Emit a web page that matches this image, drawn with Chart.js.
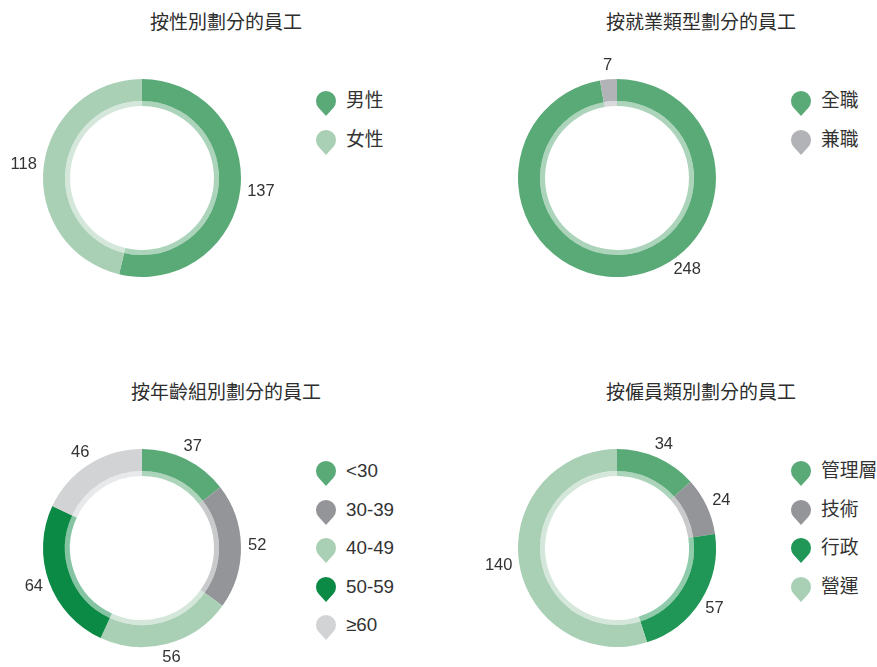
<!DOCTYPE html>
<html lang="zh-Hant">
<head>
<meta charset="utf-8">
<script src="https://cdn.jsdelivr.net/npm/chart.js@4.4.1/dist/chart.umd.min.js"></script>
<style>
  html, body { margin: 0; padding: 0; background: #fff; overflow: hidden; }
  body { width: 877px; height: 667px; position: relative; color: #333;
         font-family: "Liberation Sans", "Noto Sans CJK TC", sans-serif; }
  .panel { position: absolute; width: 452px; height: 370px; }
  .title { position: absolute; left: 0; top: 11px; width: 452px; height: 24px; line-height: 24px;
           text-align: center; font-size: 19px; color: #2e2e2e; }
  .panel canvas { position: absolute; left: 0; top: 40px; }
  .legend { position: absolute; left: 315px; top: 82px; }
  .item { position: relative; height: 38.5px; line-height: 38.5px; font-size: 18.8px; white-space: nowrap; }
  .item svg { position: absolute; left: 0; top: 8.25px; }
  .item span { position: absolute; left: 31px; top: 0; }
</style>
</head>
<body>
<div class="panel" style="left:0;top:0"><div class="title" id="t1"></div><canvas id="c1" width="300" height="238"></canvas><div class="legend" id="l1"></div></div>
<div class="panel" style="left:475px;top:0"><div class="title" id="t2"></div><canvas id="c2" width="300" height="238"></canvas><div class="legend" id="l2"></div></div>
<div class="panel" style="left:0;top:370px"><div class="title" id="t3"></div><canvas id="c3" width="300" height="257"></canvas><div class="legend" id="l3"></div></div>
<div class="panel" style="left:475px;top:370px"><div class="title" id="t4"></div><canvas id="c4" width="300" height="257"></canvas><div class="legend" id="l4"></div></div>
<script>
// chart data
const genderTitle = '按性別劃分的員工';
const genderLabels = ['男性', '女性'];
const genderValues = [137, 118];

const typeTitle = '按就業類型劃分的員工';
const typeLabels = ['全職', '兼職'];
const typeValues = [248, 7];

const ageTitle = '按年齡組別劃分的員工';
const ageLabels = ['<30', '30-39', '40-49', '50-59', '≥60'];
const ageValues = [37, 52, 56, 64, 46];

const gradeTitle = '按僱員類別劃分的員工';
const gradeLabels = ['管理層', '技術', '行政', '營運'];
const gradeValues = [34, 24, 57, 140];

// colours
const green = '#5aaa78';
const paleGreen = '#a9d0b5';
const grey = '#939598';
const lightGrey = '#b2b3b7';
const darkGreen = '#0b8a45';
const paleGrey = '#d1d3d5';
const midGreen = '#219757';

function fade(hex, a) {
  let r = parseInt(hex.slice(1, 3), 16);
  let g = parseInt(hex.slice(3, 5), 16);
  let b = parseInt(hex.slice(5, 7), 16);
  return 'rgba(' + r + ',' + g + ',' + b + ',' + a + ')';
}

// value labels just outside the ring, pushed back in if they run off the canvas
const sliceLabels = {
  id: 'sliceLabels',
  afterDatasetsDraw(chart) {
    let ctx = chart.ctx;
    let meta = chart.getDatasetMeta(0);
    let values = chart.data.datasets[0].data;
    ctx.save();
    ctx.font = '16.5px "Liberation Sans", "Noto Sans CJK TC", sans-serif';
    ctx.fillStyle = '#333';
    ctx.textAlign = 'center';
    ctx.textBaseline = 'middle';
    meta.data.forEach((arc, i) => {
      let text = String(values[i]);
      let w = ctx.measureText(text).width;
      let h = 14;
      let gap = arc.outerRadius + 7;
      let a = (arc.startAngle + arc.endAngle) / 2;
      let pos = ang => ({
        x: arc.x + Math.cos(ang) * gap + Math.cos(ang) * w / 2,
        y: arc.y + Math.sin(ang) * gap + Math.sin(ang) * h / 2
      });
      let p = pos(a);
      let n = 0;
      while (n < 300 && (p.y + h / 2 > chart.height - 1 || p.y - h / 2 < 1)) {
        let below = Math.sin(a) > 0;
        let right = Math.cos(a) >= 0;
        a += (below === right) ? -0.01 : 0.01;
        p = pos(a);
        n++;
      }
      ctx.fillText(text, p.x, p.y);
    });
    ctx.restore();
  }
};

function dropMarker(color) {
  return '<svg width="22" height="28" viewBox="0 0 22 28">' +
    '<path d="M11 26 L18.45 17.67 A10 10 0 1 0 3.55 17.67 Z" fill="' + color + '"/></svg>';
}

function makeChart(n, title, labels, values, colors, bottomPad) {
  document.getElementById('t' + n).textContent = title;
  let legend = document.getElementById('l' + n);
  labels.forEach((label, i) => {
    let item = document.createElement('div');
    item.className = 'item';
    item.innerHTML = dropMarker(colors[i]) + '<span></span>';
    item.querySelector('span').textContent = label;
    legend.appendChild(item);
  });

  new Chart(document.getElementById('c' + n), {
    type: 'doughnut',
    data: {
      labels: labels,
      datasets: [
        { data: values, backgroundColor: colors, borderWidth: 0, hoverOffset: 0, weight: 22 },
        { data: values, backgroundColor: colors.map(c => fade(c, 0.5)), borderWidth: 0, hoverOffset: 0, weight: 5 }
      ]
    },
    options: {
      responsive: false,
      animation: false,
      events: [],
      cutout: 72,
      layout: { padding: { left: 43, right: 59, top: 39, bottom: bottomPad } },
      plugins: {
        legend: { display: false },
        tooltip: { enabled: false }
      }
    },
    plugins: [sliceLabels]
  });
}

makeChart(1, genderTitle, genderLabels, genderValues, [green, paleGreen], 1);
makeChart(2, typeTitle, typeLabels, typeValues, [green, lightGrey], 1);
makeChart(3, ageTitle, ageLabels, ageValues, [green, grey, paleGreen, darkGreen, paleGrey], 20);
makeChart(4, gradeTitle, gradeLabels, gradeValues, [green, grey, midGreen, paleGreen], 20);
</script>
</body>
</html>
